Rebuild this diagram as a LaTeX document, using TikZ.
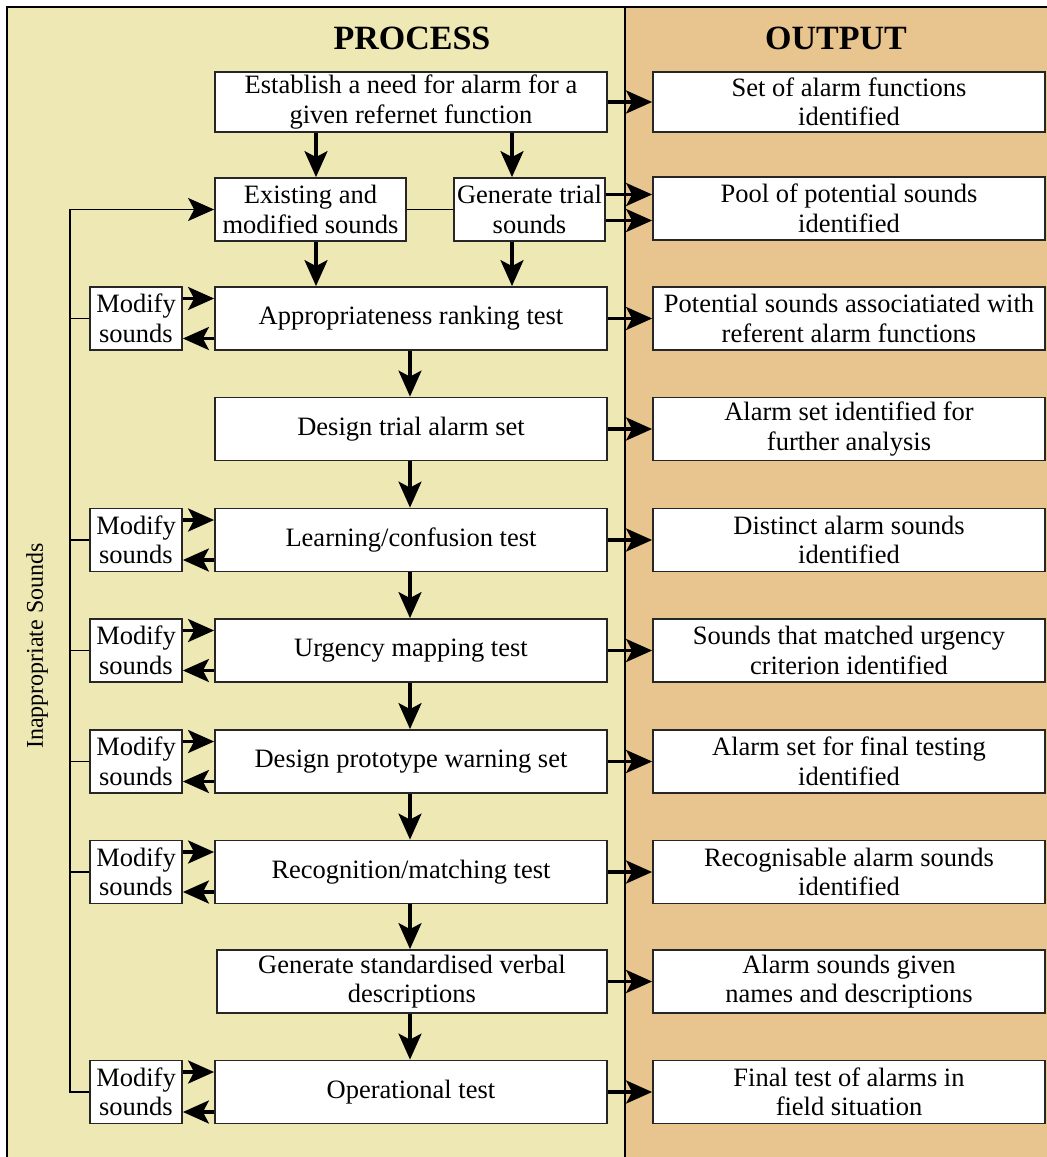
\documentclass[tikz,border=0pt]{standalone}
\usepackage{fontspec}
\setmainfont{Liberation Serif}
\usetikzlibrary{arrows.meta}
\definecolor{procbg}{RGB}{237,232,180}
\definecolor{outbg}{RGB}{232,196,142}

\begin{document}
\begin{tikzpicture}[x=1pt,y=-1pt,
  box/.style={draw=black!85,fill=white,line width=1.8pt,align=center,inner sep=0pt,
    minimum height=63pt,font=\fontsize{26.5}{29.5}\selectfont},
  mainbox/.style={box,minimum width=392pt},
  outbox/.style={box,minimum width=392pt},
  modbox/.style={box,minimum width=92pt},
  arr/.style={line width=3.2pt,-{Stealth[length=26pt,width=23pt,inset=6pt]}},
  thinarr/.style={line width=1.4pt,-{Stealth[length=26pt,width=23pt,inset=6pt]}},
  link/.style={line width=1.4pt},
  title/.style={font=\fontsize{34}{37}\selectfont\bfseries}]
\useasboundingbox (0,0) rectangle (1047,1157);
\fill[procbg] (7,7) rectangle (625,1160);
\fill[outbg] (625,7) rectangle (1050,1160);
\draw[line width=2pt] (7,1160) -- (7,7) -- (1050,7);
\draw[line width=1.4pt] (625,7) -- (625,1160);

\node[title] (ptitle) at (412,38) {PROCESS};
\node[title] (otitle) at (836,38) {OUTPUT};

\node[mainbox,minimum height=60pt] (est) at (411,102) {Establish a need for alarm for a\\given refernet function};
\node[box,minimum width=191pt] (exist) at (310.5,209.5) {Existing and\\modified sounds};
\node[box,minimum width=151pt] (gen) at (529.5,209.5) {Generate trial\\sounds};
\node[mainbox] (appr) at (411,318.5) {Appropriateness ranking test};
\node[mainbox] (design) at (411,429) {Design trial alarm set};
\node[mainbox] (learn) at (411,540) {Learning/confusion test};
\node[mainbox] (urg) at (411,650.5) {Urgency mapping test};
\node[mainbox] (proto) at (411,761.5) {Design prototype warning set};
\node[mainbox] (recog) at (411,872) {Recognition/matching test};
\node[mainbox,minimum width=390pt] (verbal) at (412,981.5) {Generate standardised verbal\\descriptions};
\node[mainbox] (oper) at (411,1092) {Operational test};

\node[modbox] (mod1) at (136,318.5) {Modify\\sounds};
\node[modbox] (mod2) at (136,540) {Modify\\sounds};
\node[modbox] (mod3) at (136,650.5) {Modify\\sounds};
\node[modbox] (mod4) at (136,761.5) {Modify\\sounds};
\node[modbox] (mod5) at (136,872) {Modify\\sounds};
\node[modbox] (mod6) at (136,1092) {Modify\\sounds};

\node[outbox,minimum height=60pt] (oest) at (849,102) {Set of alarm functions\\identified};
\node[outbox] (opool) at (849,208.5) {Pool of potential sounds\\identified};
\node[outbox] (oappr) at (849,318.5) {Potential sounds associatiated with\\referent alarm functions};
\node[outbox] (odesign) at (849,429) {Alarm set identified for\\further analysis};
\node[outbox] (olearn) at (849,540) {Distinct alarm sounds\\identified};
\node[outbox] (ourg) at (849,650.5) {Sounds that matched urgency\\criterion identified};
\node[outbox] (oproto) at (849,761.5) {Alarm set for final testing\\identified};
\node[outbox] (orecog) at (849,872) {Recognisable alarm sounds\\identified};
\node[outbox] (overbal) at (849,981.5) {Alarm sounds given\\names and descriptions};
\node[outbox] (ooper) at (849,1092) {Final test of alarms in\\field situation};

\node[rotate=90,font=\fontsize{24}{28}\selectfont] (inapp) at (37,646) {Inappropriate Sounds};

\coordinate (loop) at (70,0);

\draw[arr] (est.south -| 316,0) -- (exist.north -| 316,0);
\draw[arr] (est.south -| 512,0) -- (gen.north -| 512,0);
\draw[arr] (exist.south -| 316,0) -- (appr.north -| 316,0);
\draw[arr] (gen.south -| 512,0) -- (appr.north -| 512,0);
\draw[link] (exist.east) -- (gen.west);

\foreach \a/\b in {appr/design,design/learn,learn/urg,urg/proto,proto/recog,recog/verbal,verbal/oper}
  \draw[arr] (\a.south -| 410,0) -- (\b.north -| 410,0);

\foreach \a/\b in {est/oest,appr/oappr,design/odesign,learn/olearn,urg/ourg,proto/oproto,recog/orecog,verbal/overbal,oper/ooper}
  \draw[arr] (\a.east) -- (\b.west);
\draw[arr] ([yshift=15pt]gen.east) -- ([yshift=15pt]gen.east -| opool.west);
\draw[arr] ([yshift=-11pt]gen.east) -- ([yshift=-11pt]gen.east -| opool.west);

\foreach \m/\b in {mod1/appr,mod2/learn,mod3/urg,mod4/proto,mod5/recog,mod6/oper}{
  \draw[arr] ([yshift=20pt]\m.east) -- ([yshift=20pt]\b.west);
  \draw[arr] ([yshift=-20pt]\b.west) -- ([yshift=-20pt]\m.east);
}

\draw[thinarr] (mod6.west) -| (loop |- exist.west) -- (exist.west);
\foreach \m in {mod1,mod2,mod3,mod4,mod5}
  \draw[link] (\m.west) -- (\m.west -| loop);

\end{tikzpicture}
\end{document}
